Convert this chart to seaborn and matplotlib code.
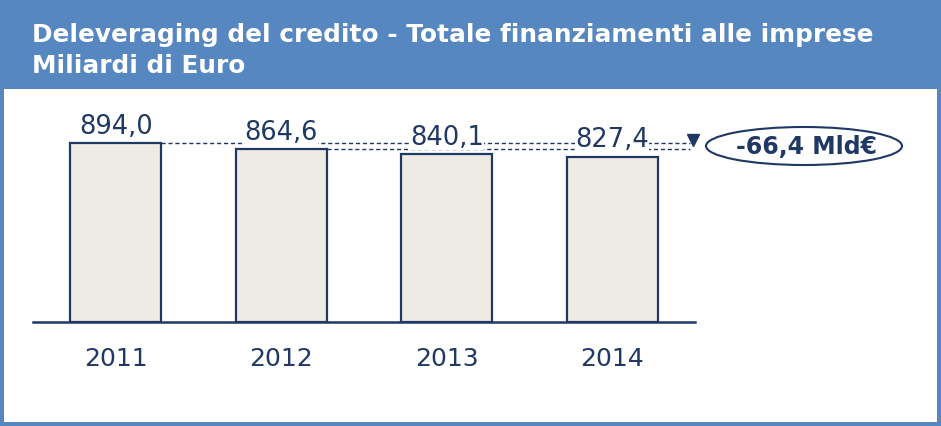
import numpy as np
import pandas as pd
import matplotlib
matplotlib.use("Agg")
import matplotlib.pyplot as plt
from matplotlib.patches import Rectangle, Ellipse
import seaborn as sb

years = ["2011", "2012", "2013", "2014"]
values = [894.0, 864.6, 840.1, 827.4]
title_line1 = "Deleveraging del credito - Totale finanziamenti alle imprese"
title_line2 = "Miliardi di Euro"
delta_label = "-66,4 Mld€"

BLUE = "#5687c1"
NAVY = "#1f3864"
BAR_FILL = "#eeebe5"

sb.set_theme(style="white")
plt.rcParams['font.family'] = ['DejaVu Sans']

W, H = 941, 427
fig = plt.figure(figsize=(W / 100, H / 100), dpi=100, facecolor=BLUE)

# white panel inside the blue frame
panel = Rectangle((4 / W, (H - 423) / H), (937 - 4) / W, (423 - 90) / H,
                  transform=fig.transFigure, facecolor="white",
                  edgecolor="none", zorder=-10)
fig.add_artist(panel)

fig.text(32 / W, (H - 42) / H, title_line1, color="white", fontsize=17.8,
         fontweight="bold", va="baseline", ha="left")
fig.text(32 / W, (H - 73) / H, title_line2, color="white", fontsize=17.8,
         fontweight="bold", va="baseline", ha="left")

ax = fig.add_axes([33 / W, (H - 323) / H, (695 - 33) / W, (323 - 100) / H])
ax.set_facecolor("none")

df = pd.DataFrame({"anno": years, "valore": values})
sb.barplot(data=df, x="anno", y="valore", color=BAR_FILL, edgecolor=NAVY,
           linewidth=1.6, width=0.55, saturation=1, ax=ax, zorder=2)

ax.set_xlim(-0.5, 3.5)
ax.set_ylim(0, 1115)
for s in ["top", "right", "left"]:
    ax.spines[s].set_visible(False)
ax.spines["bottom"].set_color(NAVY)
ax.spines["bottom"].set_linewidth(1.8)
ax.set_yticks([])
ax.set_xlabel("")
ax.set_ylabel("")
ax.tick_params(axis="x", length=0, pad=17, labelsize=18, labelcolor=NAVY)

# dashed reference lines from first two bars
ax.hlines(values[0], 0 + 0.275, 3.47, colors=NAVY, linestyles=(0, (3, 2)),
          linewidth=1.0, zorder=1)
ax.hlines(values[1], 1 + 0.275, 3.47, colors=NAVY, linestyles=(0, (3, 2)),
          linewidth=1.0, zorder=1)
ax.plot([3.49], [values[0] + 15], marker="v", color=NAVY, markersize=8,
        clip_on=False, zorder=3)

for i, v in enumerate(values):
    ax.annotate(f"{v:.1f}".replace(".", ","), (i, v), xytext=(0, 3),
                textcoords="offset points", ha="center", va="bottom",
                fontsize=18.5, color=NAVY, zorder=4,
                bbox=dict(facecolor="white", edgecolor="none", pad=0))

# ellipse with total change
ell = Ellipse((804 / W, (H - 147) / H), 196 / W, 38 / H,
              transform=fig.transFigure, facecolor="white",
              edgecolor=NAVY, linewidth=1.5, zorder=3)
fig.add_artist(ell)
fig.text(807 / W, (H - 147) / H, delta_label, color=NAVY, fontsize=17,
         fontweight="bold", ha="center", va="center", zorder=4)

fig.savefig("out.png", dpi=100, facecolor=BLUE)
